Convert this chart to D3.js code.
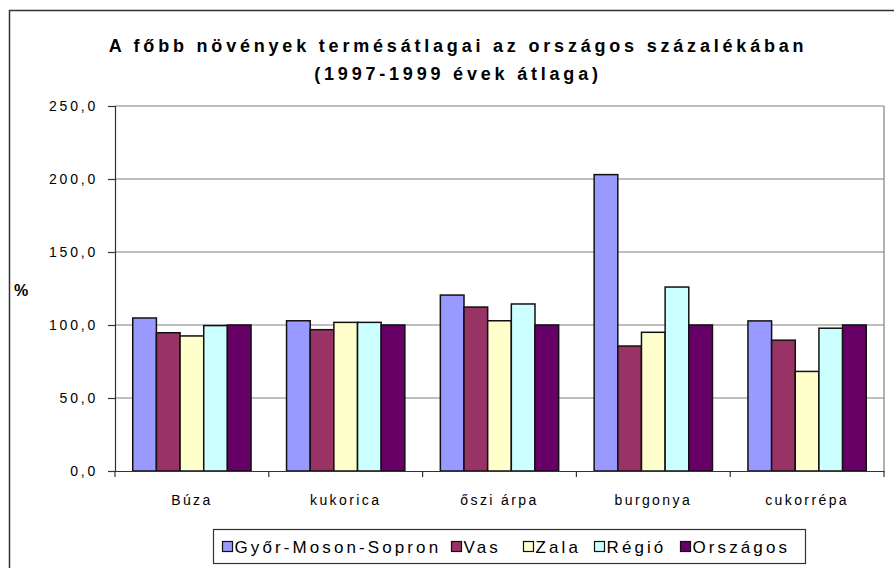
<!DOCTYPE html>
<html>
<head>
<meta charset="utf-8">
<script src="https://cdn.jsdelivr.net/npm/d3@7"></script>
<style>
  body { margin: 0; background: #fff; }
  svg { display: block; font-family: "Liberation Sans", Arial, sans-serif; }
</style>
</head>
<body>
<div id="chart"></div>
<script>
// adatok
const categories = ['Búza', 'kukorica', 'őszi árpa', 'burgonya', 'cukorrépa'];
const seriesNames = ['Győr-Moson-Sopron', 'Vas', 'Zala', 'Régió', 'Országos'];
const seriesColors = ['#9999ff', '#993366', '#ffffcc', '#ccffff', '#660066'];
const gyorMosonSopron = [104.8, 102.9, 120.5, 203.0, 102.8];
const vas = [94.7, 96.8, 112.3, 85.6, 89.6];
const zala = [92.5, 101.8, 102.9, 95.0, 68.2];
const regio = [99.6, 101.8, 114.4, 126.0, 97.8];
const orszagos = [100, 100, 100, 100, 100];
const yTicks = [0, 50, 100, 150, 200, 250];
const titleLines = ['A főbb növények termésátlagai az országos százalékában', '(1997-1999 évek átlaga)'];

const allSeries = [gyorMosonSopron, vas, zala, regio, orszagos];

const W = 894, H = 568;
const margin = { top: 106, right: 10, bottom: 97, left: 115 };
const width = 884 - margin.left;
const height = 471 - margin.top;

const svg = d3.select('#chart').append('svg')
  .attr('width', W).attr('height', H);

// külső keret
svg.append('rect')
  .attr('x', 9.5).attr('y', 10.5)
  .attr('width', W).attr('height', H)
  .attr('fill', 'none').attr('stroke', '#333').attr('stroke-width', 1.5);

// cím
svg.append('g').selectAll('text').data(titleLines).join('text')
  .attr('x', 458).attr('y', (d, i) => 52 + i * 28)
  .attr('text-anchor', 'middle')
  .attr('font-size', 18).attr('font-weight', 'bold')
  .style('letter-spacing', '3.8px')
  .text(d => d);

const g = svg.append('g').attr('transform', `translate(${margin.left},${margin.top})`);

const x0 = d3.scaleBand().domain(categories).range([0, width]).paddingInner(0).paddingOuter(0);
// 150%-os rés a csoportok közt (Excel alapértelmezés)
const x1 = d3.scaleBand().domain(seriesNames)
  .range([x0.bandwidth() * 0.75 / 6.5, x0.bandwidth() - x0.bandwidth() * 0.75 / 6.5]);
const y = d3.scaleLinear().domain([0, 250]).range([height, 0]);

// rácsvonalak
g.append('g').selectAll('line').data(yTicks.filter(d => d > 0)).join('line')
  .attr('x1', 0).attr('x2', width)
  .attr('y1', d => y(d)).attr('y2', d => y(d))
  .attr('stroke', '#808080').attr('stroke-width', 1.2);
g.append('line')
  .attr('x1', width).attr('x2', width).attr('y1', 0).attr('y2', height)
  .attr('stroke', '#808080').attr('stroke-width', 1.2);

// oszlopok
const groups = g.append('g').selectAll('g').data(categories).join('g')
  .attr('transform', d => `translate(${x0(d)},0)`);
groups.selectAll('rect')
  .data((c, ci) => seriesNames.map((s, si) => ({ s, v: allSeries[si][ci], color: seriesColors[si] })))
  .join('rect')
  .attr('x', d => x1(d.s))
  .attr('width', x1.bandwidth())
  .attr('y', d => y(d.v))
  .attr('height', d => height - y(d.v))
  .attr('fill', d => d.color)
  .attr('stroke', '#111').attr('stroke-width', 1.5);

// y tengely
const yAxis = g.append('g')
  .call(d3.axisLeft(y).tickValues(yTicks).tickSize(7).tickPadding(10)
    .tickFormat(d => d3.format('.1f')(d).replace('.', ',')));
yAxis.select('.domain').attr('stroke', '#333').attr('stroke-width', 1.2);
yAxis.selectAll('.tick line').attr('stroke', '#333').attr('stroke-width', 1.2);
yAxis.selectAll('.tick text')
  .attr('font-size', 14).attr('fill', '#000')
  .attr('font-family', '"Liberation Sans", Arial, sans-serif')
  .style('letter-spacing', '2.8px');

// x tengely
const xAxis = g.append('g').attr('transform', `translate(0,${height})`)
  .call(d3.axisBottom(x0).tickSize(0).tickPadding(24));
xAxis.select('.domain').attr('stroke', '#333').attr('stroke-width', 1.2);
xAxis.selectAll('.tick text')
  .attr('font-size', 14).attr('fill', '#000')
  .attr('font-family', '"Liberation Sans", Arial, sans-serif')
  .style('letter-spacing', '2.4px');
xAxis.append('g').selectAll('line').data(d3.range(categories.length + 1)).join('line')
  .attr('x1', i => i * x0.bandwidth()).attr('x2', i => i * x0.bandwidth())
  .attr('y1', 0).attr('y2', 6)
  .attr('stroke', '#333').attr('stroke-width', 1.2);

// y tengely felirat
svg.append('text')
  .attr('x', 14).attr('y', 296)
  .attr('font-size', 16).attr('font-weight', 'bold')
  .text('%');

// jelmagyarázat
const legend = svg.append('g').attr('transform', 'translate(213.5,529.5)');
legend.append('rect')
  .attr('width', 592).attr('height', 34)
  .attr('fill', '#fff').attr('stroke', '#333').attr('stroke-width', 1.2);
const legendX = [9, 238, 310, 381, 467];
const items = legend.selectAll('g.item').data(seriesNames).join('g')
  .attr('class', 'item')
  .attr('transform', (d, i) => `translate(${legendX[i]},0)`);
items.append('rect')
  .attr('x', 0).attr('y', 12).attr('width', 10).attr('height', 10)
  .attr('fill', (d, i) => seriesColors[i]).attr('stroke', '#111').attr('stroke-width', 1.2);
items.append('text')
  .attr('x', 12).attr('y', 23)
  .attr('font-size', 17)
  .style('letter-spacing', '3.1px')
  .text(d => d);
</script>
</body>
</html>
